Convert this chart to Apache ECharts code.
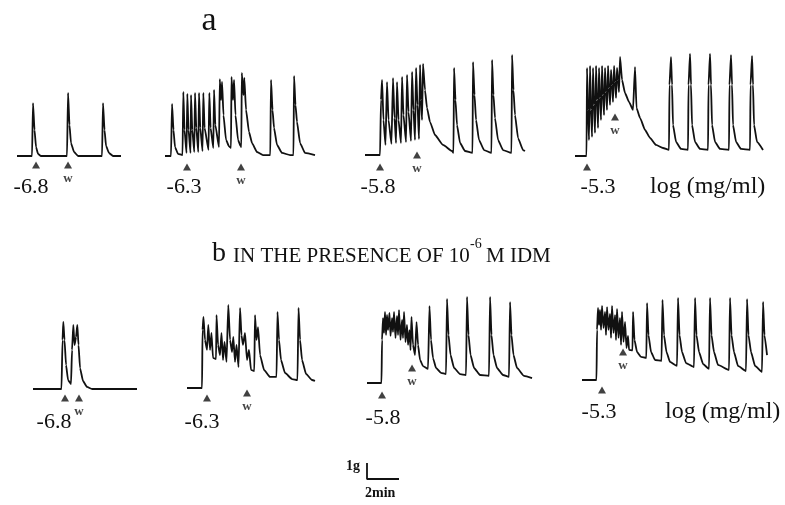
<!DOCTYPE html>
<html><head><meta charset="utf-8">
<script src="https://cdn.jsdelivr.net/npm/echarts@6/dist/echarts.min.js"></script>
<style>html,body{margin:0;padding:0;background:#fff}#c{width:785px;height:505px}</style>
</head><body><div id="c"></div>
<script>
// Isometric tension traces. x: time in 30-s units, y: tension in g above the resting baseline.
const traceA1 = [[0,0],[1.88,0],[2.0,3.31],[2.19,1.63],[2.38,0.56],[2.63,0.13],[3.0,0],[6.25,0],[6.38,3.94],[6.56,1.94],[6.75,0.81],[7.13,0.25],[7.63,0],[10.63,0],[10.75,3.31],[10.94,1.63],[11.13,0.63],[11.5,0.19],[12.0,0],[13.0,0]];
const traceA2 = [[0,0],[0.75,0],[0.88,3.25],[1.06,1.63],[1.25,0.56],[1.63,0.13],[2.19,0.06],[2.29,4.0],[2.44,1.63],[2.69,0.19],[2.79,3.88],[2.94,1.63],[3.19,0.19],[3.25,3.81],[3.41,1.63],[3.66,0.25],[3.75,3.94],[3.91,1.75],[4.16,0.25],[4.25,3.94],[4.41,1.75],[4.69,0.31],[4.79,3.94],[4.95,1.75],[5.44,0.38],[5.54,3.94],[5.7,1.75],[6.04,0.5],[6.13,4.13],[6.29,1.94],[6.75,0.56],[6.85,4.81],[7.0,3.5],[7.13,4.63],[7.31,2.56],[7.63,1.0],[8.0,0.6],[8.25,0.5],[8.31,4.94],[8.5,3.5],[8.63,4.75],[8.81,2.56],[9.13,1.0],[9.44,0.63],[9.54,0.56],[9.6,5.19],[9.81,3.81],[9.91,4.88],[10.13,2.88],[10.5,1.5],[10.88,0.81],[11.5,0.25],[12.25,0.06],[13.16,0.06],[13.25,4.75],[13.44,2.88],[13.63,1.75],[14.0,0.69],[14.63,0.19],[15.63,0.06],[16.06,0.06],[16.13,5.0],[16.31,3.19],[16.5,2.13],[16.88,0.81],[17.5,0.19],[18.75,0.06]];
const traceA3 = [[0,0],[1.88,0],[2.0,3.44],[2.13,4.69],[2.31,2.19],[2.56,0.63],[2.75,4.56],[2.94,2.19],[3.31,0.69],[3.5,4.81],[3.69,2.31],[3.88,0.75],[4.0,4.56],[4.19,2.19],[4.5,0.75],[4.63,4.88],[4.81,2.5],[5.13,0.81],[5.25,5.0],[5.44,2.69],[5.75,0.88],[5.88,5.19],[6.06,2.81],[6.25,0.94],[6.38,5.44],[6.56,3.13],[6.75,1.0],[6.88,5.63],[7.0,3.44],[7.13,2.19],[7.25,5.69],[7.5,4.06],[7.75,2.94],[8.13,2.06],[8.75,1.25],[9.75,0.63],[10.88,0.25],[11.06,0.13],[11.13,5.44],[11.31,3.44],[11.5,1.88],[11.88,0.75],[12.5,0.25],[13.44,0.13],[13.5,5.81],[13.69,3.75],[13.88,2.19],[14.25,0.94],[14.88,0.31],[15.81,0.13],[15.88,5.94],[16.06,3.75],[16.25,2.31],[16.63,0.94],[17.25,0.31],[18.31,0.13],[18.38,6.25],[18.56,4.06],[18.75,2.5],[19.13,1.06],[19.75,0.31],[20.0,0.25]];
const traceA4 = [[0,0],[1.44,0],[1.5,5.5],[1.63,2.88],[1.75,1.0],[1.88,5.63],[2.0,2.88],[2.13,1.19],[2.25,5.5],[2.38,3.19],[2.5,1.44],[2.63,5.63],[2.75,3.5],[2.88,1.75],[3.0,5.5],[3.13,3.63],[3.25,2.25],[3.38,5.63],[3.5,3.81],[3.63,2.56],[3.75,5.5],[3.88,4.0],[4.0,2.88],[4.13,5.63],[4.25,4.25],[4.38,3.19],[4.5,5.38],[4.63,4.44],[4.75,3.38],[4.88,5.63],[5.0,4.63],[5.13,3.63],[5.25,5.5],[5.38,4.75],[5.5,4.0],[5.63,6.19],[5.88,4.75],[6.25,3.94],[6.75,3.38],[7.25,2.88],[7.5,5.56],[7.69,3.0],[8.13,2.38],[8.75,1.63],[9.38,1.13],[10.13,0.69],[11.0,0.5],[11.75,0.38],[11.81,4.44],[12.0,6.19],[12.13,4.44],[12.25,1.94],[12.63,0.88],[13.25,0.44],[14.13,0.38],[14.19,4.44],[14.38,6.38],[14.5,4.44],[14.63,1.94],[15.0,0.88],[15.63,0.44],[16.63,0.38],[16.69,4.44],[16.88,6.38],[17.0,4.44],[17.13,1.94],[17.5,0.88],[18.13,0.44],[19.25,0.38],[19.31,4.44],[19.5,6.31],[19.63,4.44],[19.75,1.94],[20.13,0.88],[20.75,0.44],[21.88,0.38],[21.94,4.44],[22.13,6.25],[22.25,4.44],[22.38,1.94],[22.75,0.88],[23.5,0.38]];
const traceB1 = [[0,0],[3.56,0],[3.69,3.06],[3.79,4.19],[3.94,3.06],[4.13,1.5],[4.38,0.56],[4.75,0.31],[4.88,2.44],[5.04,4.0],[5.19,2.75],[5.38,3.25],[5.54,4.0],[5.69,2.75],[5.88,1.31],[6.25,0.5],[6.75,0.13],[7.38,0],[13.0,0]];
const traceB2 = [[0,0],[1.88,0],[1.94,3.63],[2.06,4.44],[2.25,3.0],[2.5,2.38],[2.66,3.94],[2.88,2.38],[3.06,3.44],[3.25,1.88],[3.63,1.81],[3.69,4.56],[3.88,2.69],[4.13,2.06],[4.31,3.44],[4.5,1.75],[4.69,2.88],[4.94,1.63],[5.16,5.19],[5.38,3.0],[5.63,2.25],[5.79,3.19],[6.0,1.63],[6.19,2.69],[6.44,1.31],[6.63,5.0],[6.81,3.31],[7.0,2.69],[7.25,3.44],[7.5,1.75],[7.75,2.38],[8.0,1.13],[8.41,1.06],[8.5,4.56],[8.69,3.0],[8.88,3.81],[9.13,2.06],[9.63,1.13],[10.38,0.69],[11.19,0.69],[11.31,4.75],[11.5,3.0],[11.75,1.75],[12.25,0.94],[13.13,0.56],[13.81,0.5],[13.94,5.0],[14.13,3.0],[14.38,1.75],[14.88,0.88],[15.63,0.5],[16.0,0.44]];
const traceB3 = [[0,0],[1.81,0],[1.88,2.69],[2.0,4.06],[2.13,3.13],[2.25,4.44],[2.38,3.0],[2.5,4.25],[2.63,3.31],[2.81,4.38],[2.94,2.94],[3.13,4.06],[3.25,3.19],[3.38,4.44],[3.56,2.81],[3.75,4.19],[3.88,3.0],[4.0,4.56],[4.19,2.69],[4.38,3.94],[4.5,2.81],[4.63,4.44],[4.81,2.56],[5.0,3.63],[5.13,2.38],[5.31,3.31],[5.44,2.06],[5.56,4.13],[5.75,2.38],[6.0,1.75],[6.19,3.81],[6.38,2.38],[6.63,1.44],[7.0,1.06],[7.63,0.88],[7.81,4.81],[8.0,2.69],[8.25,1.56],[8.63,0.94],[9.25,0.63],[9.88,0.56],[10.0,5.25],[10.19,3.0],[10.44,1.75],[10.88,0.94],[11.63,0.56],[12.38,0.5],[12.5,5.38],[12.69,3.0],[12.94,1.75],[13.38,0.94],[14.13,0.5],[15.25,0.44],[15.38,5.38],[15.56,3.0],[15.81,1.75],[16.25,0.94],[17.0,0.5],[17.75,0.38],[17.88,5.06],[18.06,3.0],[18.31,1.75],[18.75,0.94],[19.63,0.44],[20.63,0.31]];
const traceB4 = [[0,0],[1.81,0],[1.88,3.13],[2.0,4.5],[2.13,3.44],[2.25,4.38],[2.38,3.13],[2.5,4.63],[2.69,3.25],[2.88,4.25],[3.0,2.81],[3.13,4.56],[3.31,3.13],[3.5,4.13],[3.63,2.63],[3.75,4.63],[3.94,2.94],[4.13,4.06],[4.25,2.5],[4.38,4.44],[4.56,2.63],[4.75,3.88],[4.88,2.19],[5.0,4.25],[5.19,2.38],[5.38,3.63],[5.56,2.0],[5.75,2.75],[5.88,1.88],[6.31,1.85],[6.38,4.25],[6.56,2.5],[6.88,1.75],[7.38,1.44],[8.04,1.38],[8.13,4.81],[8.31,2.81],[8.63,1.75],[9.13,1.25],[9.94,1.19],[10.06,5.0],[10.25,2.81],[10.56,1.75],[11.0,1.13],[11.88,0.88],[12.0,5.13],[12.19,2.81],[12.5,1.75],[13.0,1.06],[14.0,0.81],[14.13,5.13],[14.31,2.81],[14.63,1.75],[15.13,1.0],[15.88,0.69],[16.0,5.13],[16.19,2.81],[16.5,1.75],[17.0,0.94],[18.38,0.63],[18.5,5.13],[18.69,2.81],[19.0,1.75],[19.5,0.88],[20.5,0.56],[20.63,5.06],[20.81,2.81],[21.13,1.75],[21.63,0.88],[22.5,0.5],[22.63,4.88],[22.81,2.81],[23.13,1.56]];

// drug addition (▲ with log concentration) and wash-out (▲ w) marks: [time, g]
const doseLabels = ['-6.8', '-6.3', '-5.8', '-5.3'];
const doseMarksA = [[2.38,-0.56],[2.75,-0.69],[1.88,-0.75],[1.5,-0.69]];
const washMarksA = [[6.38,-0.56],[9.5,-0.69],[6.5,0],[5.0,2.44]];
const doseMarksB = [[4.0,-0.56],[2.5,-0.63],[1.88,-0.75],[2.5,-0.63]];
const washMarksB = [[5.75,-0.56],[7.5,-0.31],[5.63,0.94],[5.13,1.75]];
// calibration: 1 g, 2 min (= 4 units of 30 s)
const scaleBar = [[0,1],[0,0],[4,0]];

const PX_T = 8;   // px per 30 s
const PX_G = 16;  // px per g
const SERIF = '"Liberation Serif", "DejaVu Serif", serif';
const INK = '#111';

const panels = [
  {trace: traceA1, dose: doseMarksA[0], wash: washMarksA[0], left: 17,  base: 156, tmax: 13,    lab: [31, 187]},
  {trace: traceA2, dose: doseMarksA[1], wash: washMarksA[1], left: 165, base: 156, tmax: 18.75, lab: [184, 187]},
  {trace: traceA3, dose: doseMarksA[2], wash: washMarksA[2], left: 365, base: 155, tmax: 20,    lab: [378, 187]},
  {trace: traceA4, dose: doseMarksA[3], wash: washMarksA[3], left: 575, base: 156, tmax: 23.5,  lab: [598, 187]},
  {trace: traceB1, dose: doseMarksB[0], wash: washMarksB[0], left: 33,  base: 389, tmax: 13,    lab: [54, 422]},
  {trace: traceB2, dose: doseMarksB[1], wash: washMarksB[1], left: 187, base: 388, tmax: 16,    lab: [202, 422]},
  {trace: traceB3, dose: doseMarksB[2], wash: washMarksB[2], left: 367, base: 383, tmax: 20.75, lab: [383, 418]},
  {trace: traceB4, dose: doseMarksB[3], wash: washMarksB[3], left: 582, base: 380, tmax: 23.25, lab: [599, 412]}
];

const grid = [], xAxis = [], yAxis = [], series = [], graphic = [];
panels.forEach((p, i) => {
  grid.push({left: p.left, top: p.base - 7 * PX_G, width: p.tmax * PX_T, height: 10 * PX_G});
  xAxis.push({type: 'value', gridIndex: i, min: 0, max: p.tmax, show: false});
  yAxis.push({type: 'value', gridIndex: i, min: -3, max: 7, show: false});
  series.push({type: 'line', xAxisIndex: i, yAxisIndex: i, data: p.trace, symbol: 'none',
    smooth: 0.15, smoothMonotone: 'x', silent: true, clip: false,
    lineStyle: {color: INK, width: 1.8, join: 'round'}});
  series.push({type: 'scatter', xAxisIndex: i, yAxisIndex: i, data: [p.dose], symbol: 'triangle',
    symbolSize: [8, 7], itemStyle: {color: INK}, silent: true});
  series.push({type: 'scatter', xAxisIndex: i, yAxisIndex: i, data: [p.wash], symbol: 'triangle',
    symbolSize: [8, 7], itemStyle: {color: INK}, silent: true,
    label: {show: true, position: 'bottom', distance: 4, formatter: 'w', color: INK,
      fontFamily: SERIF, fontWeight: 'bold', fontSize: 13}});
  graphic.push({type: 'text', x: p.lab[0], y: p.lab[1], silent: true,
    style: {text: doseLabels[i % 4], font: '22px ' + SERIF, fill: INK,
      textAlign: 'center', align: 'center', textVerticalAlign: 'middle', verticalAlign: 'middle'}});
});
// scale bar
const si = panels.length;
grid.push({left: 367, top: 479 - PX_G, width: 4 * PX_T, height: PX_G});
xAxis.push({type: 'value', gridIndex: si, min: 0, max: 4, show: false});
yAxis.push({type: 'value', gridIndex: si, min: 0, max: 1, show: false});
series.push({type: 'line', xAxisIndex: si, yAxisIndex: si, data: scaleBar, symbol: 'none', silent: true, clip: false,
  lineStyle: {color: INK, width: 1.8}});

function txt(x, y, s, font, align) {
  graphic.push({type: 'text', x: x, y: y, silent: true,
    style: {text: s, font: font, fill: INK, textAlign: align || 'left', align: align || 'left',
      textVerticalAlign: 'middle', verticalAlign: 'middle'}});
}
txt(209, 21, 'a', '34px ' + SERIF, 'center');
txt(650, 187, 'log (mg/ml)', '24px ' + SERIF);
txt(665, 412, 'log (mg/ml)', '24px ' + SERIF);
txt(212, 254, 'b', '28px ' + SERIF);
txt(233, 256, 'IN THE PRESENCE OF 10', '21px ' + SERIF);
txt(470, 244, '-6', '14px ' + SERIF);
txt(486, 256, 'M IDM', '21px ' + SERIF);
txt(360, 466, '1g', 'bold 14px ' + SERIF, 'right');
txt(365, 493, '2min', 'bold 14px ' + SERIF);

const chart = echarts.init(document.getElementById('c'), null, {renderer: 'canvas'});
chart.setOption({animation: false, backgroundColor: '#fff', grid, xAxis, yAxis, series, graphic});
</script>
</body></html>
